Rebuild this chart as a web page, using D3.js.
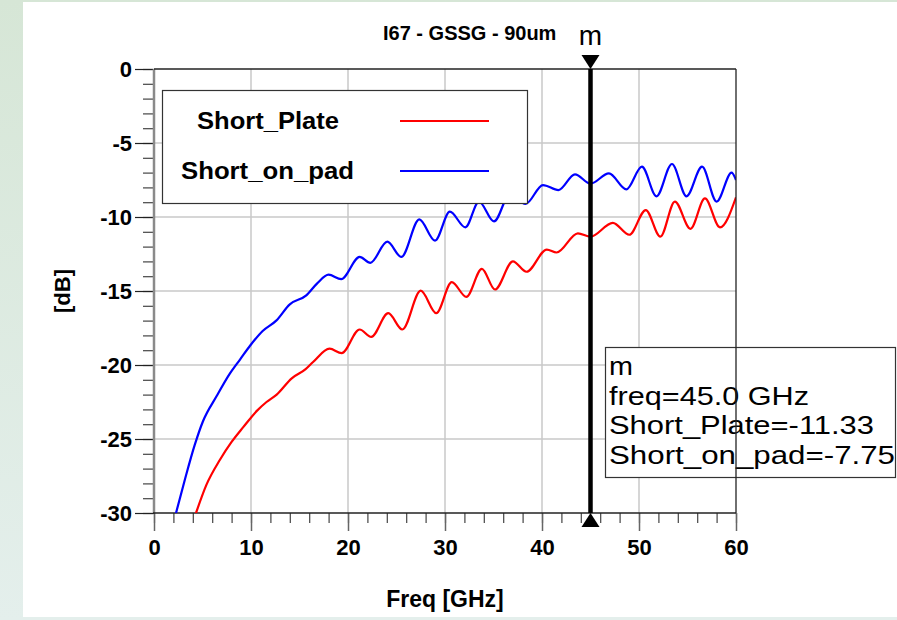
<!DOCTYPE html>
<html><head><meta charset="utf-8">
<script src="https://cdn.jsdelivr.net/npm/d3@7"></script>
<style>
html,body{margin:0;padding:0;background:#fff;}
svg{display:block;}
text{font-family:"Liberation Sans",Arial,sans-serif;}
</style></head>
<body>
<svg id="c" width="897" height="620"></svg>
<script>
// ---- data ----
const title = "I67 - GSSG - 90um";
const seriesNames = ["Short_Plate", "Short_on_pad"];
const seriesColors = ["#ff0000", "#0000ff"];
const plateFreq = [4.33,5.4,6.8,8.0,9.2,10.6,11.6,12.65,14.2,15.6,16.4,18.1,19.35,21.2,22.4,24.15,25.6,27.5,29.1,30.7,32.2,33.8,35.15,37.0,38.4,40.5,41.5,43.7,45.0,47.3,49.0,50.7,52.2,53.7,55.3,56.8,58.35,60];
const plateDb   = [-30,-28.1,-26.4,-25.2,-24.2,-23.1,-22.5,-22.0,-20.9,-20.3,-19.8,-18.9,-19.2,-17.6,-18.1,-16.5,-17.6,-14.98,-16.5,-14.4,-15.4,-13.5,-14.9,-13.0,-13.7,-12.2,-12.4,-11.1,-11.33,-10.4,-11.2,-9.53,-11.33,-8.96,-10.8,-8.74,-10.7,-8.67];
const padFreq = [2.27,3.2,4.2,5.05,6.46,7.8,8.9,9.9,11.2,12.6,14.0,15.7,16.8,18.0,19.3,21.2,22.3,24.05,25.5,27.35,28.97,30.5,32.1,33.5,35.05,36.7,38.3,40.1,41.7,43.4,45.0,46.9,48.7,50.3,51.8,53.4,54.9,56.5,58.0,59.55,60];
const padDb   = [-30,-27.7,-25.4,-23.8,-22.1,-20.6,-19.6,-18.7,-17.7,-17.0,-15.9,-15.3,-14.5,-13.9,-14.2,-12.7,-13.1,-11.67,-12.7,-10.16,-11.6,-9.64,-10.7,-8.96,-10.3,-8.45,-9.12,-7.84,-8.18,-7.12,-7.75,-7.05,-8.13,-6.6,-8.6,-6.42,-8.6,-6.6,-8.96,-7.0,-7.5];
const xTicks = [0,10,20,30,40,50,60];
const xMinorTicks = d3.range(0,61,2);
const yTicks = [0,-5,-10,-15,-20,-25,-30];
const yMinorTicks = d3.range(-30,1,1);
const xLabel = "Freq [GHz]";
const yLabel = "[dB]";
const markerName = "m";
const markerFreq = 45.0;
const markerLines = ["m","freq=45.0 GHz","Short_Plate=-11.33","Short_on_pad=-7.75"];

// ---- layout ----
const svg = d3.select("#c");
const L=154, R=736, T=69, B=513;
const x = d3.scaleLinear().domain([0,60]).range([L,R]);
const y = d3.scaleLinear().domain([-30,0]).range([B,T]);
const fmt = d => String(d);

// background frame
const defs = svg.append("defs");
const g1 = defs.append("linearGradient").attr("id","lg").attr("x1",0).attr("y1",0).attr("x2",0).attr("y2",1);
g1.append("stop").attr("offset",0).attr("stop-color","#d6e6d6");
g1.append("stop").attr("offset",1).attr("stop-color","#e4efec");
svg.append("rect").attr("width",897).attr("height",620).attr("fill","url(#lg)");
svg.append("rect").attr("x",23).attr("y",2).attr("width",874).attr("height",615).attr("fill","#fff");

defs.append("clipPath").attr("id","clip").append("rect").attr("x",L).attr("y",T).attr("width",R-L).attr("height",B-T);

// grid
svg.append("g").selectAll("line").data(xTicks.slice(1,-1)).join("line")
  .attr("x1",d=>x(d)).attr("x2",d=>x(d)).attr("y1",T).attr("y2",B)
  .attr("stroke","#c8c8c8").attr("stroke-width",1.5);
svg.append("g").selectAll("line").data(yTicks.slice(1,-1)).join("line")
  .attr("x1",L).attr("x2",R).attr("y1",d=>y(d)).attr("y2",d=>y(d))
  .attr("stroke","#c8c8c8").attr("stroke-width",1.5);

// axes
const fontTick = "bold 22px 'Liberation Sans', Arial, sans-serif";
const yMinor = svg.append("g").attr("transform",`translate(${L-1},0)`)
  .call(d3.axisLeft(y).tickValues(yMinorTicks).tickSize(10).tickFormat(""));
yMinor.select(".domain").remove();
yMinor.selectAll("line").attr("stroke","#444").attr("stroke-width",1.2);
const yMajor = svg.append("g").attr("transform",`translate(${L},0)`)
  .call(d3.axisLeft(y).tickValues(yTicks).tickSize(19).tickPadding(3).tickFormat(fmt));
yMajor.select(".domain").remove();
yMajor.selectAll("line").attr("stroke","#222").attr("stroke-width",1.2);
yMajor.selectAll("text").style("font",fontTick).attr("fill","#000").attr("dy","0.36em");

const xMinor = svg.append("g").attr("transform",`translate(0,${B})`)
  .call(d3.axisBottom(x).tickValues(xMinorTicks).tickSize(10).tickFormat(""));
xMinor.select(".domain").remove();
xMinor.selectAll("line").attr("stroke","#444").attr("stroke-width",1.2);
const xMajor = svg.append("g").attr("transform",`translate(0,${B})`)
  .call(d3.axisBottom(x).tickValues(xTicks).tickSize(18).tickPadding(8).tickFormat(fmt));
xMajor.select(".domain").remove();
xMajor.selectAll("line").attr("stroke","#666").attr("stroke-width",1.5);
xMajor.selectAll("text").style("font",fontTick).attr("fill","#000");

// frame lines
svg.append("line").attr("x1",L).attr("x2",L).attr("y1",T).attr("y2",B).attr("stroke","#8a8a8a").attr("stroke-width",2.5);
svg.append("line").attr("x1",L).attr("x2",R).attr("y1",T).attr("y2",T).attr("stroke","#222").attr("stroke-width",1.3);
svg.append("line").attr("x1",L-1).attr("x2",R).attr("y1",B).attr("y2",B).attr("stroke","#222").attr("stroke-width",1.3);

// curves
const line = d3.line().x(d=>x(d[0])).y(d=>y(d[1])).curve(d3.curveMonotoneX);
const series = [d3.zip(plateFreq,plateDb), d3.zip(padFreq,padDb)];
const gc = svg.append("g").attr("clip-path","url(#clip)");
series.forEach((s,i)=>{
  gc.append("path").datum(s).attr("d",line).attr("fill","none")
    .attr("stroke",seriesColors[i]).attr("stroke-width",2.2).attr("stroke-linejoin","round");
});

// legend
const lg = svg.append("g");
lg.append("rect").attr("x",162.5).attr("y",90.5).attr("width",365).attr("height",113)
  .attr("fill","#fff").attr("stroke","#333").attr("stroke-width",1.2);
const legY = [121, 171];
const legX = [197, 181];
const legW = [142, 173];
seriesNames.forEach((n,i)=>{
  lg.append("text").attr("x",legX[i]).attr("y",legY[i]+8).text(n)
    .style("font","bold 23px 'Liberation Sans', Arial, sans-serif")
    .attr("textLength",legW[i]).attr("lengthAdjust","spacingAndGlyphs");
  lg.append("line").attr("x1",400).attr("x2",489).attr("y1",legY[i]).attr("y2",legY[i])
    .attr("stroke",seriesColors[i]).attr("stroke-width",2);
});

// marker
const mx = x(markerFreq);
svg.append("line").attr("x1",mx).attr("x2",mx).attr("y1",T).attr("y2",B).attr("stroke","#000").attr("stroke-width",4.5);
svg.append("path").attr("d",`M${mx-9},55 L${mx+9},55 L${mx},69 Z`).attr("fill","#000");
svg.append("path").attr("d",`M${mx-9},527 L${mx+9},527 L${mx},513 Z`).attr("fill","#000");
svg.append("text").attr("x",mx).attr("y",45).attr("text-anchor","middle").text(markerName)
  .style("font","28px 'Liberation Sans', Arial, sans-serif");

// marker readout box
const mb = svg.append("g");
mb.append("rect").attr("x",605.5).attr("y",347.5).attr("width",290).attr("height",130)
  .attr("fill","#fff").attr("stroke","#333").attr("stroke-width",1.2);
svg.append("line").attr("x1",R).attr("x2",R).attr("y1",T).attr("y2",B).attr("stroke","#222").attr("stroke-width",1.3);
const mbW = [24, 200, 265, 286];
markerLines.forEach((t,i)=>{
  mb.append("text").attr("x",609).attr("y",375+i*29.5).text(t)
    .style("font","26px 'Liberation Sans', Arial, sans-serif")
    .attr("textLength",mbW[i]).attr("lengthAdjust","spacingAndGlyphs");
});

// titles
svg.append("text").attr("x",383).attr("y",40).text(title)
  .style("font","bold 20px 'Liberation Sans', Arial, sans-serif");
svg.append("text").attr("x",445).attr("y",607).attr("text-anchor","middle").text(xLabel)
  .style("font","bold 23px 'Liberation Sans', Arial, sans-serif");
svg.append("text").attr("transform","translate(70,291) rotate(-90)").attr("text-anchor","middle").text(yLabel)
  .style("font","bold 22px 'Liberation Sans', Arial, sans-serif");
</script>
</body></html>
